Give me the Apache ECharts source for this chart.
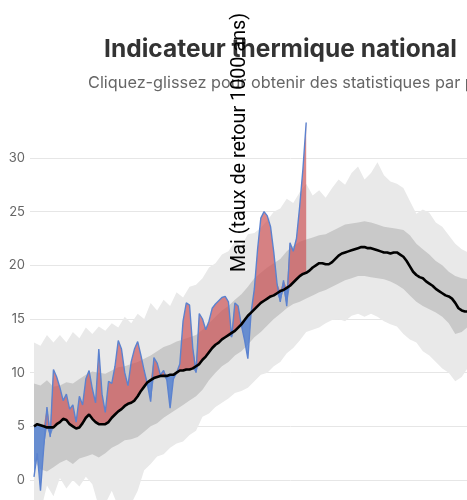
<!DOCTYPE html>
<html><head><meta charset="utf-8">
<script src="https://cdn.jsdelivr.net/npm/echarts@6/dist/echarts.min.js"></script>
<style>
html,body{margin:0;padding:0;width:467px;height:500px;overflow:hidden;background:#fff}
#c{width:561px;height:600px}
</style></head>
<body><div id="c"></div>
<script>
// ---- data ----
const startDate = Date.UTC(2022, 0, 1);
const DAY = 86400000;
const obsStepDays = 2;   // sampling of normal + observed series
const bandStepDays = 4;  // sampling of the gray bands

const titleText = 'Indicateur thermique national';
const subtitleText = 'Cliquez-glissez pour obtenir des statistiques par période';

const normal = [
 5.0,5.2,5.1,5.0,4.9,4.9,4.9,5.2,5.4,5.7,
 5.6,5.2,5.0,4.8,4.9,5.3,5.8,6.1,5.7,5.4,
 5.2,5.2,5.2,5.4,5.8,6.1,6.4,6.6,6.9,7.1,
 7.2,7.4,7.8,8.3,8.7,9.1,9.3,9.5,9.6,9.7,
 9.7,9.7,9.8,9.8,10.0,10.2,10.2,10.3,10.3,10.4,
 10.6,10.8,11.2,11.5,11.9,12.3,12.6,12.8,13.1,13.3,
 13.5,13.7,13.9,14.2,14.5,14.9,15.3,15.6,15.9,16.2,
 16.5,16.7,16.9,17.1,17.2,17.4,17.6,17.7,17.9,18.1,
 18.4,18.7,19.0,19.2,19.3,19.5,19.8,20.0,20.2,20.2,
 20.1,20.1,20.3,20.6,20.9,21.1,21.2,21.3,21.4,21.5,
 21.6,21.7,21.7,21.6,21.6,21.5,21.4,21.3,21.2,21.2,
 21.1,21.2,21.2,21.0,20.8,20.4,19.9,19.4,19.1,18.9,
 18.8,18.5,18.3,18.1,17.8,17.6,17.4,17.2,17.1,16.9,
 16.5,16.0,15.8,15.7,15.7
];
const observed = [
 0.3,2.5,-1.0,3.0,6.8,4.0,10.3,9.6,8.6,7.4,
 8.0,6.6,7.0,5.4,7.8,7.0,9.4,10.2,8.5,7.2,
 12.2,8.0,6.3,9.2,9.0,10.6,13.0,12.2,10.0,8.8,
 11.0,12.2,12.9,11.6,10.2,8.9,7.3,11.4,10.9,9.8,
 10.2,9.3,6.7,9.4,10.0,10.8,14.8,16.5,16.3,12.3,
 10.0,15.5,15.0,14.0,14.8,16.0,16.4,16.7,17.0,17.1,
 16.6,13.3,16.5,16.2,14.4,13.0,11.3,15.6,17.8,21.5,
 24.4,25.0,24.6,23.6,21.2,18.3,16.6,18.6,16.2,22.1,
 21.3,22.5,25.5,29.0,33.3
];
const recordMax = [
 12.8,12.5,13.5,12.8,13.5,12.8,13.8,13.2,14.2,13.6,14.3,13.9,14.6,14.2,15.2,14.6,15.5,15.0,16.5,15.8,16.8,16.2,17.5,17.0,18.0,18.2,
 18.8,19.8,20.2,21.0,21.3,22.2,21.8,22.9,23.0,23.5,24.2,25.0,25.3,26.2,25.8,26.8,27.6,26.5,27.0,26.3,27.2,28.0,27.5,28.6,29.2,28.0,
 28.6,29.6,28.4,27.8,27.6,27.2,26.0,24.8,25.2,24.9,24.0,23.6,22.8,22.0,21.5,21.2
];
const recordMin = [
 -3,-3,-0.5,-1.5,0.2,-0.8,0.0,-0.6,0.3,-0.4,-2.5,-2.2,-1.0,-2.5,-3,-2.2,-1.0,0.9,1.5,2.2,2.4,3.0,3.4,3.6,4.2,4.6,
 5.9,6.2,6.8,7.2,7.6,8.1,8.3,8.6,9.2,9.8,10.0,10.6,11.0,11.8,12.3,13.0,13.8,14.0,14.2,14.6,14.9,15.0,14.8,15.3,15.5,15.2,
 15.5,15.2,14.8,14.5,14.3,13.6,13.1,12.8,12.0,11.6,11.0,10.4,10.0,9.2,9.6,10.5
];
const upperBand = [
 9.0,8.8,9.3,8.7,8.8,9.1,9.0,9.4,9.8,10.1,10.0,9.9,10.2,10.5,10.6,10.8,11.0,11.3,11.6,12.0,12.4,12.6,12.9,13.1,13.3,13.5,
 14.0,14.6,15.2,15.8,16.2,16.8,17.3,18.0,18.8,19.3,19.8,20.2,20.6,21.3,21.8,22.2,22.4,22.6,22.8,22.9,23.2,23.5,23.8,23.9,24.0,24.1,
 24.0,23.8,23.6,23.5,23.4,23.3,22.8,22.0,21.5,21.0,20.4,20.0,19.4,19.0,18.8,18.7
];
const lowerBand = [
 1.8,1.0,0.8,1.2,1.6,1.9,1.5,2.0,2.2,2.4,2.1,2.5,3.0,3.3,3.7,3.8,4.0,4.5,5.0,5.3,5.8,6.2,6.6,7.0,7.4,7.8,
 8.4,9.3,10.0,10.6,11.0,11.6,12.0,12.6,13.3,13.8,14.4,15.0,15.5,16.0,16.4,16.6,16.9,17.2,17.5,17.7,18.0,18.3,18.6,18.8,19.0,19.0,
 18.9,18.8,18.7,18.5,18.2,17.8,17.2,16.6,16.2,15.9,15.6,15.2,14.6,13.6,13.8,14.3
];
const yMin = -5, yMax = 35, yInterval = 5;
const xStartDay = -2.47, xEndDay = 319.1;
const annotation = { text: 'Mai (taux de retour 1000 ans)', date: '2022-05-08', value: 31.45 };

// ---- build ----
const t = (i, step) => startDate + i * step * DAY;
const pairs = (arr, step) => arr.map((v, i) => [t(i, step), v]);
const recBase = pairs(recordMin, bandStepDays);
const recRange = recordMax.map((v, i) => [t(i, bandStepDays), +(v - recordMin[i]).toFixed(2)]);
const pBase = pairs(lowerBand, bandStepDays);
const pRange = upperBand.map((v, i) => [t(i, bandStepDays), +(v - lowerBand[i]).toFixed(2)]);
const fBase = observed.map((v, i) => [t(i, obsStepDays), Math.min(v, normal[i])]);
const fBlue = observed.map((v, i) => [t(i, obsStepDays), +Math.max(normal[i] - v, 0).toFixed(2)]);
const fRed = observed.map((v, i) => [t(i, obsStepDays), +Math.max(v - normal[i], 0).toFixed(2)]);

const hidden = { lineStyle: { opacity: 0 }, symbol: 'none', silent: true, stackStrategy: 'all' };
const font = 'Inter, "Noto Sans", sans-serif';

const chart = echarts.init(document.getElementById('c'), null, { renderer: 'canvas' });
chart.setOption({
  animation: false,
  backgroundColor: '#fff',
  title: [
    { text: titleText, left: 'center', top: 32,
      textStyle: { fontFamily: font, fontSize: 24.5, fontWeight: 'bold', color: '#333' } },
    { text: subtitleText, left: 83, top: 70,
      textStyle: { fontFamily: font, fontSize: 16.3, fontWeight: 'normal', color: '#666' } }
  ],
  grid: { left: 30, right: 10, top: 104.3, bottom: 66.3 },
  xAxis: {
    type: 'time',
    min: startDate + xStartDay * DAY,
    max: startDate + xEndDay * DAY,
    splitLine: { show: false },
    axisLine: { onZero: false, lineStyle: { color: '#ccc' } },
    axisLabel: { color: '#666', fontFamily: font }
  },
  yAxis: {
    type: 'value', min: yMin, max: yMax, interval: yInterval,
    axisLabel: { color: '#666', fontSize: 13, fontFamily: font, margin: 5, showMaxLabel: false, showMinLabel: false },
    splitLine: { lineStyle: { color: '#e6e6e6', width: 1 }, showMaxLine: false, showMinLine: false },
    axisLine: { show: false }, axisTick: { show: false }
  },
  series: [
    Object.assign({ type: 'line', stack: 'rec', data: recBase }, hidden),
    Object.assign({ type: 'line', stack: 'rec', data: recRange, areaStyle: { color: '#e9e9e9', opacity: 1 } }, hidden),
    Object.assign({ type: 'line', stack: 'p', data: pBase }, hidden),
    Object.assign({ type: 'line', stack: 'p', data: pRange, areaStyle: { color: '#c9c9c9', opacity: 1 } }, hidden),
    Object.assign({ type: 'line', stack: 'f', data: fBase }, hidden),
    Object.assign({ type: 'line', stack: 'f', data: fBlue, areaStyle: { color: 'rgba(70,120,210,0.75)', opacity: 1 } }, hidden),
    Object.assign({ type: 'line', stack: 'f', data: fRed, areaStyle: { color: 'rgba(205,80,82,0.68)', opacity: 1 } }, hidden),
    { type: 'line', data: pairs(observed, obsStepDays), symbol: 'none', silent: true,
      lineStyle: { color: '#5b82cf', width: 1.4 } },
    { type: 'line', data: pairs(normal, obsStepDays), symbol: 'none', silent: true,
      lineStyle: { color: '#000', width: 2.6 } }
  ]
});
const p = chart.convertToPixel({ gridIndex: 0 }, [Date.parse(annotation.date), annotation.value]);
chart.setOption({
  graphic: [{
    type: 'text', x: p[0], y: p[1], rotation: Math.PI / 2, z: 100,
    style: { text: annotation.text, fill: '#000', font: '19.8px Roboto, "Liberation Sans", sans-serif',
             align: 'center', verticalAlign: 'middle' }
  }]
});
</script>
</body></html>
